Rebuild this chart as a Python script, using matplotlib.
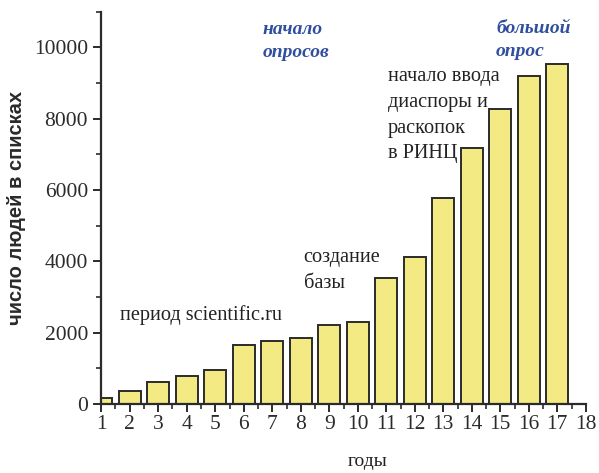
"""Рост числа людей в списках по годам."""
import numpy as np
import matplotlib.pyplot as plt
from matplotlib.ticker import MultipleLocator

years = np.arange(1, 18)
counts = [180, 360, 610, 780, 960, 1650, 1770, 1840, 2210, 2300,
          3540, 4120, 5770, 7180, 8270, 9200, 9530]

plt.rcParams.update({'font.family': ['Liberation Serif', 'DejaVu Serif'],
                     'font.size': 15})

fig = plt.figure(figsize=(5.99, 4.73), dpi=100)
ax = fig.add_axes([0.169, 0.146, 0.809, 0.829])

ax.bar(years, counts, width=0.78, color='#F4EA84', edgecolor='#2b2b2b', linewidth=1.4)

ax.set_xlim(1, 18)
ax.set_ylim(0, 11000)
ax.xaxis.set_major_locator(MultipleLocator(1))
ax.xaxis.set_minor_locator(MultipleLocator(0.5))
ax.yaxis.set_major_locator(MultipleLocator(2000))
ax.yaxis.set_minor_locator(MultipleLocator(1000))
for s in ['top', 'right']:
    ax.spines[s].set_visible(False)
for s in ['left', 'bottom']:
    ax.spines[s].set_linewidth(1.6)
    ax.spines[s].set_color('#2b2b2b')
ax.tick_params(which='major', length=6, width=1.4, colors='#2b2b2b', labelsize=15.5)
ax.tick_params(which='minor', length=3.5, width=1.2, colors='#2b2b2b')
ax.tick_params(axis='x', pad=2)

ax.set_ylabel('число людей в списках', family=['Liberation Sans', 'DejaVu Sans'],
              fontsize=14.5, weight='bold', color='#2a2a2a', labelpad=6)
ax.set_xlabel('годы', fontsize=14, color='#222222')
ax.xaxis.set_label_coords(0.55, -0.125)

# подписи периодов
txt = dict(fontsize=14.6, va='center', color='#222222')
ax.text(1.65, 2490, 'период scientific.ru', **txt)
ax.text(8.1, 3750, 'создание\nбазы', linespacing=1.5, **txt)
ax.text(11.05, 8100, 'начало ввода\nдиаспоры и\nраскопок\nв РИНЦ', linespacing=1.48, **txt)

blue = dict(fontsize=14, va='center', color='#2F4F9E', style='italic', weight='bold',
            linespacing=1.45)
ax.text(6.65, 10170, 'начало\nопросов', **blue)
ax.text(14.85, 10200, 'большой\nопрос', **blue)

fig.savefig('out.png', dpi=100)
